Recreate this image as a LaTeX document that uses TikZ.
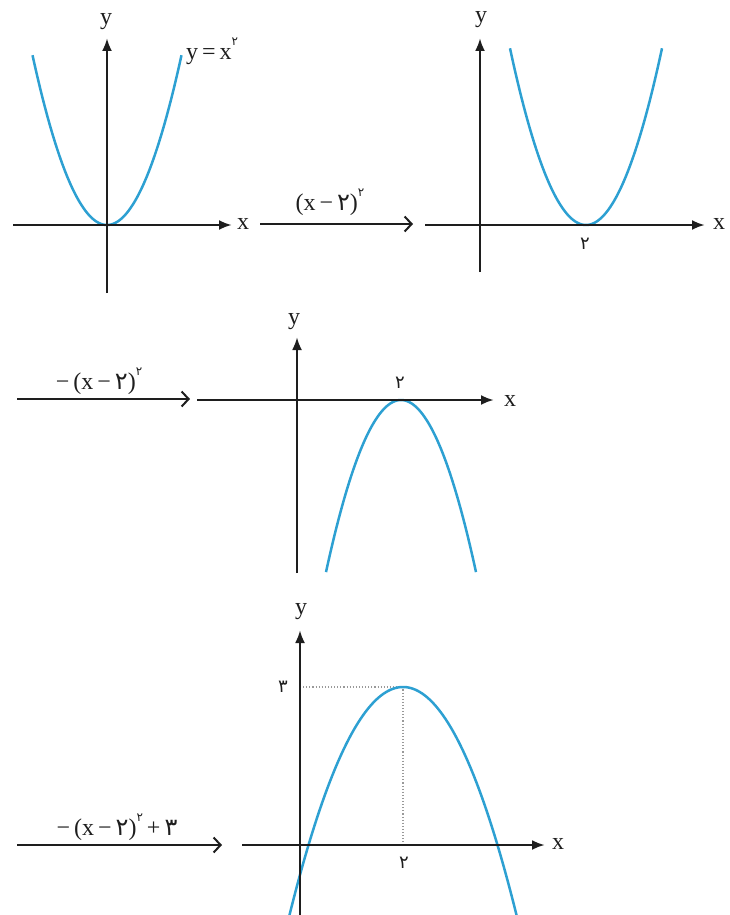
\documentclass[tikz,border=0pt]{standalone}
\usepackage{fontspec}
\setmainfont{Liberation Serif}
\newfontfamily\fa{DejaVu Sans}
\usetikzlibrary{arrows.meta}
\definecolor{curvecol}{RGB}{45,160,210}
\definecolor{axiscol}{RGB}{30,30,30}
\newcommand\supdig[1]{\raisebox{0.6em}{\fontsize{12}{12}\selectfont\fa #1}}
\tikzset{
  ax/.style={line width=2.6pt, draw=axiscol, -{Latex[length=13pt,width=10pt]}},
  curve/.style={line width=2.5pt, draw=curvecol},
  conn/.style={line width=2pt, draw=axiscol, -{Straight Barb[length=7pt,width=15pt,line width=2pt]}},
  lbl/.style={font=\fontsize{24}{28}\selectfont, inner sep=0pt, text=axiscol},
  dig/.style={font=\fontsize{18}{20}\selectfont\fa, inner sep=0pt, text=axiscol},
  guide/.style={draw=gray!80, dotted, line width=1.1pt}
}
\begin{document}
\begin{tikzpicture}[x=1pt,y=-1pt]
\useasboundingbox (0,0) rectangle (729,915);
% ---------- panel 1 ----------
\coordinate (a1l) at (13,225); \coordinate (a1r) at (232,225);
\coordinate (a1b) at (107,293); \coordinate (a1t) at (107,38);
\draw[curve] plot[domain=-74.5:74.5, samples=80, smooth] ({107+\x},{225-0.0306*\x*\x});
\draw[ax] (a1l) -- (a1r);
\draw[ax] (a1b) -- (a1t);
\node[lbl] (x1) at (243,224) {x};
\node[lbl] (y1) at (106,22) {y};
\node[lbl, anchor=west] (f1) at (186,51) {y\,=\,x\supdig{۲}};
% ---------- connector 1 ----------
\coordinate (c1s) at (260,224); \coordinate (c1e) at (413,224);
\draw[conn] (c1s) -- (c1e);
\node[lbl] (t1) at (330,202) {(x\,−\,{\fa ۲})\supdig{۲}};
% ---------- panel 2 ----------
\coordinate (a2l) at (425,225); \coordinate (a2r) at (705,225);
\coordinate (a2b) at (480,272); \coordinate (a2t) at (480,38);
\draw[curve] plot[domain=-76:76, samples=80, smooth] ({586+\x},{225-0.0306*\x*\x});
\draw[ax] (a2l) -- (a2r);
\draw[ax] (a2b) -- (a2t);
\node[lbl] (x2) at (719,224) {x};
\node[lbl] (y2) at (481,20) {y};
\node[dig] (d2) at (585,244) {۲};
% ---------- connector 2 ----------
\coordinate (c2s) at (17,399); \coordinate (c2e) at (190,399);
\draw[conn] (c2s) -- (c2e);
\node[lbl] (t2) at (99,381) {−\,(x\,−\,{\fa ۲})\supdig{۲}};
% ---------- panel 3 ----------
\coordinate (a3l) at (197,400); \coordinate (a3r) at (494,400);
\coordinate (a3b) at (297,573); \coordinate (a3t) at (297,337);
\draw[curve] plot[domain=-75:75, samples=80, smooth] ({401+\x},{400+0.0306*\x*\x});
\draw[ax] (a3l) -- (a3r);
\draw[ax] (a3b) -- (a3t);
\node[lbl] (x3) at (510,401) {x};
\node[lbl] (y3) at (294,322) {y};
\node[dig] (d3) at (400,383) {۲};
% ---------- connector 3 ----------
\coordinate (c3s) at (17,845); \coordinate (c3e) at (222,845);
\draw[conn] (c3s) -- (c3e);
\node[lbl] (t3) at (117,827) {−\,(x\,−\,{\fa ۲})\supdig{۲}\,+\,{\fa ۳}};
% ---------- panel 4 ----------
\coordinate (a4l) at (242,845); \coordinate (a4r) at (545,845);
\coordinate (a4b) at (300,915); \coordinate (a4t) at (300,630);
\coordinate (v4) at (403,687); \coordinate (v4y) at (300,687); \coordinate (v4x) at (403,845);
\draw[guide] (v4y) -- (v4) -- (v4x);
\draw[curve] plot[domain=-114:114, samples=100, smooth] ({403+\x},{687+0.0177*\x*\x});
\draw[ax] (a4l) -- (a4r);
\draw[ax] (a4b) -- (a4t);
\node[lbl] (x4) at (558,844) {x};
\node[lbl] (y4) at (301,612) {y};
\node[dig] (d4y) at (283,687) {۳};
\node[dig] (d4x) at (404,863) {۲};
\end{tikzpicture}
\end{document}
